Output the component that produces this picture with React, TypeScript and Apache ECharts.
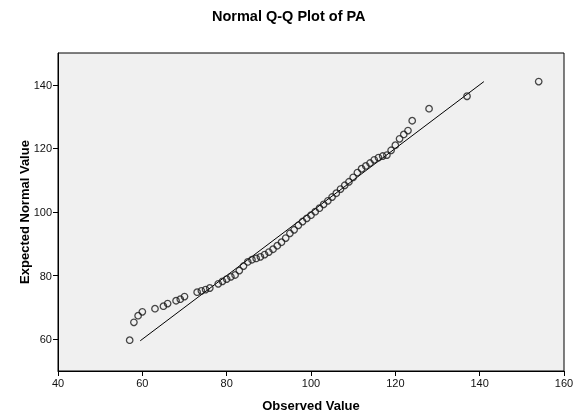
import React, { useEffect, useRef } from "react";
import * as echarts from "echarts";

const titleText = "Normal Q-Q Plot of PA";
const xAxisName = "Observed Value";
const yAxisName = "Expected Normal Value";
const yTickValues = [60, 80, 100, 120, 140];

const observed = [
  57, 58, 59, 60, 63, 65, 66, 68, 69, 70, 73, 74, 75, 76, 78, 79, 80, 81, 82, 83,
  84, 85, 86, 87, 88, 89, 90, 91, 92, 93, 94, 95, 96, 97, 98, 99, 100, 101, 102, 103,
  104, 105, 106, 107, 108, 109, 110, 111, 112, 113, 114, 115, 116, 117, 118, 119, 120, 121, 122, 123,
  124, 128, 137, 154,
];
const expected = [
  59.7, 65.3, 67.4, 68.6, 69.6, 70.4, 71.2, 72.1, 72.6, 73.4, 74.8, 75.2, 75.6, 76.1, 77.4, 78.2, 78.9, 79.6, 80.2, 81.6,
  83.0, 84.3, 85.0, 85.4, 85.9, 86.6, 87.4, 88.3, 89.4, 90.5, 91.8, 93.3, 94.4, 95.8, 97.0, 98.0, 99.0, 100.1, 101.2, 102.4,
  103.5, 104.7, 105.9, 107.2, 108.4, 109.5, 110.9, 112.4, 113.6, 114.5, 115.4, 116.4, 117.1, 117.6, 117.9, 119.4, 121.0, 123.0, 124.4, 125.6,
  128.7, 132.5, 136.4, 141.0,
];
const refLineStart = 59.5;
const refLineEnd = 141;

export default function App() {
  const ref = useRef<HTMLDivElement>(null);
  useEffect(() => {
    if (!ref.current) return;
    const chart = echarts.init(ref.current, undefined, { renderer: "svg" });
    const font = "'Liberation Sans', Arial, sans-serif";
    chart.setOption({
      animation: false,
      textStyle: { fontFamily: font },
      title: {
        text: titleText,
        left: 207,
        top: 3,
        textStyle: { fontFamily: font, fontSize: 14.5, fontWeight: "bold", color: "#000" },
      },
      grid: {
        left: 58,
        right: 23,
        top: 53,
        bottom: 45,
        show: true,
        backgroundColor: "#f0f0f0",
        borderColor: "#000",
        borderWidth: 1,
      },
      xAxis: {
        type: "value",
        min: 40,
        max: 160,
        interval: 20,
        name: xAxisName,
        nameLocation: "middle",
        nameGap: 28,
        nameMoveOverlap: false,
        nameTextStyle: { fontFamily: font, fontSize: 13, fontWeight: "bold", color: "#000" },
        axisLine: { show: true, lineStyle: { color: "#000", width: 1 } },
        axisTick: { show: true, length: 5, lineStyle: { color: "#000" } },
        axisLabel: { fontFamily: font, fontSize: 11, color: "#111", margin: 6 },
        splitLine: { show: false },
      },
      yAxis: {
        type: "value",
        min: 50,
        max: 150,
        name: yAxisName,
        nameLocation: "middle",
        nameGap: 27,
        nameMoveOverlap: false,
        nameTextStyle: { fontFamily: font, fontSize: 13, fontWeight: "bold", color: "#000" },
        axisLine: { show: true, lineStyle: { color: "#000", width: 1 } },
        axisTick: { show: true, length: 5, lineStyle: { color: "#000" }, customValues: yTickValues },
        axisLabel: { fontFamily: font, fontSize: 11, color: "#111", margin: 6, customValues: yTickValues },
        splitLine: { show: false },
      },
      series: [
        {
          type: "line",
          data: [
            [refLineStart, refLineStart],
            [refLineEnd, refLineEnd],
          ],
          showSymbol: false,
          symbol: "none",
          lineStyle: { color: "#000", width: 1 },
          silent: true,
          z: 2,
        },
        {
          type: "scatter",
          data: observed.map((o, i) => [o, expected[i]]),
          symbol: "circle",
          symbolSize: 6.5,
          itemStyle: { color: "rgba(0,0,0,0)", borderColor: "#1a1a1a", borderWidth: 1.3 },
          z: 3,
        },
      ],
    });
    return () => chart.dispose();
  }, []);
  return (
    <div
      ref={ref}
      style={{ position: "fixed", left: 0, top: 0, width: 587, height: 417 }}
    />
  );
}
